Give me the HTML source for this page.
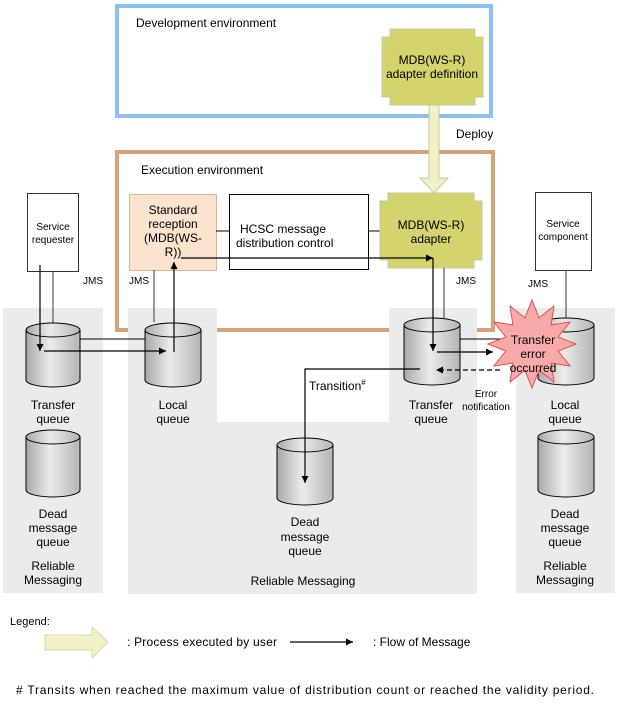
<!DOCTYPE html>
<html><head><meta charset="utf-8"><style>
html,body{margin:0;padding:0;background:#fff;}
svg{display:block;font-family:"Liberation Sans",Arial,sans-serif;}
</style></head><body>
<svg width="619" height="704" viewBox="0 0 619 704" xmlns="http://www.w3.org/2000/svg">
<defs>
<linearGradient id="cg" x1="0" x2="1" y1="0" y2="0">
<stop offset="0" stop-color="#a8a8a8"/><stop offset="0.45" stop-color="#ececec"/><stop offset="1" stop-color="#b4b4b4"/>
</linearGradient>
<marker id="ah" viewBox="0 0 10 10" refX="10" refY="5" markerWidth="7" markerHeight="7" orient="auto-start-reverse" markerUnits="userSpaceOnUse"><path d="M0,0 L10,5 L0,10z" fill="#000"/></marker>
</defs>

<rect x="117" y="6" width="374" height="110" fill="none" stroke="#8cc0f2" stroke-width="4"/>
<text x="136" y="27" font-size="12">Development environment</text>
<rect x="117" y="152" width="376" height="178" fill="none" stroke="#d4a57a" stroke-width="4"/>
<text x="141" y="174" font-size="12">Execution environment</text>

<rect x="3" y="308" width="100" height="285" fill="#ebebeb"/>
<rect x="128" y="308" width="349" height="286" fill="#ebebeb"/>
<rect x="217" y="308" width="172" height="114" fill="#fff"/>
<rect x="516" y="308" width="99" height="285" fill="#ebebeb"/>
<line x1="217" y1="330" x2="389" y2="330" stroke="#d4a57a" stroke-width="4"/>
<line x1="477" y1="330" x2="495" y2="330" stroke="#d4a57a" stroke-width="4"/>

<polygon points="390,29 475,29 475,37 483,37 483,97 475,97 475,105 390,105 390,97 382,97 382,37 390,37" fill="#d4d46e" stroke="#c8c8a0" stroke-width="1"/>
<text x="432" y="64" font-size="12" text-anchor="middle">MDB(WS-R)</text>
<text x="432" y="78" font-size="12" text-anchor="middle">adapter definition</text>

<polygon points="429,105 439,105 439,178 448,178 434,193 420,178 429,178" fill="#f2f2c4" stroke="#c8c8a0"/>
<text x="456" y="138" font-size="12">Deploy</text>

<rect x="27.5" y="193.5" width="51" height="78" fill="#fff" stroke="#333"/>
<text x="53" y="230" font-size="10" text-anchor="middle">Service</text>
<text x="53" y="243" font-size="10" text-anchor="middle">requester</text>

<rect x="129.5" y="194.5" width="87" height="76" fill="#fae4d0" stroke="#e2b48e"/>
<text x="173" y="214" font-size="12" text-anchor="middle">Standard</text>
<text x="173" y="228" font-size="12" text-anchor="middle">reception</text>
<text x="173" y="242" font-size="12" text-anchor="middle">(MDB(WS-</text>
<text x="173" y="256" font-size="12" text-anchor="middle">R))</text>

<line x1="216" y1="231" x2="229" y2="231" stroke="#000"/>
<rect x="229.5" y="194.5" width="139" height="75" fill="#fff" stroke="#000"/>
<text x="240" y="233" font-size="12">HCSC message</text>
<text x="236" y="247" font-size="12">distribution control</text>
<line x1="368" y1="231" x2="380" y2="231" stroke="#000"/>

<polygon points="388,193 474,193 474,201 482,201 482,260 474,260 474,268 388,268 388,260 380,260 380,201 388,201" fill="#d4d46e" stroke="#c8c8a0"/>
<text x="431" y="229" font-size="12" text-anchor="middle">MDB(WS-R)</text>
<text x="431" y="243" font-size="12" text-anchor="middle">adapter</text>

<rect x="535.5" y="192.5" width="56" height="78" fill="#fff" stroke="#333"/>
<text x="563" y="227" font-size="10" text-anchor="middle">Service</text>
<text x="563" y="240" font-size="10" text-anchor="middle">component</text>

<text x="83" y="284" font-size="10">JMS</text>
<text x="129" y="284" font-size="10">JMS</text>
<text x="456" y="284" font-size="10">JMS</text>
<text x="528" y="287" font-size="10">JMS</text>

<g stroke="#555" stroke-width="1.2">
<line x1="53" y1="272" x2="53" y2="323"/>
<line x1="154" y1="270" x2="154" y2="322"/>
<line x1="444" y1="268" x2="444" y2="318"/>
<line x1="566" y1="270" x2="566" y2="318"/>
</g>

<g stroke="#000" stroke-width="1" fill="url(#cg)">
<path d="M26,330 v50 a27,7 0 0 0 54,0 v-50z"/><ellipse cx="53" cy="330" rx="27" ry="7"/>
<path d="M26,437 v53 a27,7 0 0 0 54,0 v-53z"/><ellipse cx="53" cy="437" rx="27" ry="7"/>
<path d="M145,330 v50 a28,7 0 0 0 56,0 v-50z"/><ellipse cx="173" cy="330" rx="28" ry="7"/>
<path d="M277,445 v53 a28,7 0 0 0 56,0 v-53z"/><ellipse cx="305" cy="445" rx="28" ry="7"/>
<path d="M404,325 v53 a28,7 0 0 0 56,0 v-53z"/><ellipse cx="432" cy="325" rx="28" ry="7"/>
<path d="M538,325 v53 a28,7 0 0 0 56,0 v-53z"/><ellipse cx="566" cy="325" rx="28" ry="7"/>
<path d="M538,437 v53 a28,7 0 0 0 56,0 v-53z"/><ellipse cx="566" cy="437" rx="28" ry="7"/>
</g>

<line x1="80" y1="339" x2="145" y2="339" stroke="#000"/>
<line x1="460" y1="339" x2="540" y2="339" stroke="#000"/>

<g stroke="#000" stroke-width="1.2" fill="none">
<line x1="40" y1="265" x2="40" y2="351" marker-end="url(#ah)"/>
<line x1="44" y1="351" x2="166" y2="351" marker-end="url(#ah)"/>
<line x1="174" y1="352" x2="174" y2="262" marker-end="url(#ah)"/>
<line x1="181" y1="258" x2="433" y2="258" marker-end="url(#ah)"/>
<line x1="433" y1="258" x2="433" y2="351" marker-end="url(#ah)"/>
<line x1="437" y1="352" x2="493" y2="352" marker-end="url(#ah)"/>
<line x1="500" y1="370" x2="436" y2="370" stroke-dasharray="5,3" marker-end="url(#ah)"/>
<polyline points="420,369 305,369 305,483" marker-end="url(#ah)"/>
</g>

<polygon points="576,344 558.1,351 570.1,366 551.1,363.1 554,382.1 539,370.1 532,388 525,370.1 510,382.1 512.9,363.1 493.9,366 505.9,351 488,344 505.9,337 493.9,322 512.9,324.9 510,305.9 525,317.9 532,300 539,317.9 554,305.9 551.1,324.9 570.1,322 558.1,337" fill="#f8aaaa" stroke="#e05050" stroke-width="1"/>
<text x="533" y="344" font-size="12" text-anchor="middle">Transfer</text>
<text x="533" y="358" font-size="12" text-anchor="middle">error</text>
<text x="533" y="372" font-size="12" text-anchor="middle">occurred</text>

<g font-size="12" text-anchor="middle">
<text x="53" y="409">Transfer</text><text x="53" y="423">queue</text>
<text x="173" y="409">Local</text><text x="173" y="423">queue</text>
<text x="431" y="409">Transfer</text><text x="431" y="423">queue</text>
<text x="565" y="409">Local</text><text x="565" y="423">queue</text>
<text x="53" y="518">Dead</text><text x="53" y="532">message</text><text x="53" y="546">queue</text>
<text x="305" y="526">Dead</text><text x="305" y="541">message</text><text x="305" y="555">queue</text>
<text x="565" y="518">Dead</text><text x="565" y="532">message</text><text x="565" y="546">queue</text>
<text x="53" y="570">Reliable</text><text x="53" y="584">Messaging</text>
<text x="303" y="585">Reliable Messaging</text>
<text x="565" y="570">Reliable</text><text x="565" y="584">Messaging</text>
</g>
<text x="309" y="390" font-size="12">Transition<tspan font-size="8" dy="-5">#</tspan></text>
<text x="486" y="397" font-size="10" text-anchor="middle">Error</text>
<text x="486" y="410" font-size="10" text-anchor="middle">notification</text>

<text x="10" y="625" font-size="11">Legend:</text>
<polygon points="45,635 92,635 92,627 108,642 92,658 92,650 45,650" fill="#f2f2c4" stroke="#d8d8b0"/>
<text x="127" y="646" font-size="12" textLength="150">: Process executed by user</text>
<line x1="290" y1="642" x2="353" y2="642" stroke="#000" stroke-width="1.2" marker-end="url(#ah)"/>
<text x="373" y="646" font-size="12">: Flow of Message</text>
<text x="16" y="694" font-size="12" textLength="578" lengthAdjust="spacing"># Transits when reached the maximum value of distribution count or reached the validity period.</text>
</svg>
</body></html>
